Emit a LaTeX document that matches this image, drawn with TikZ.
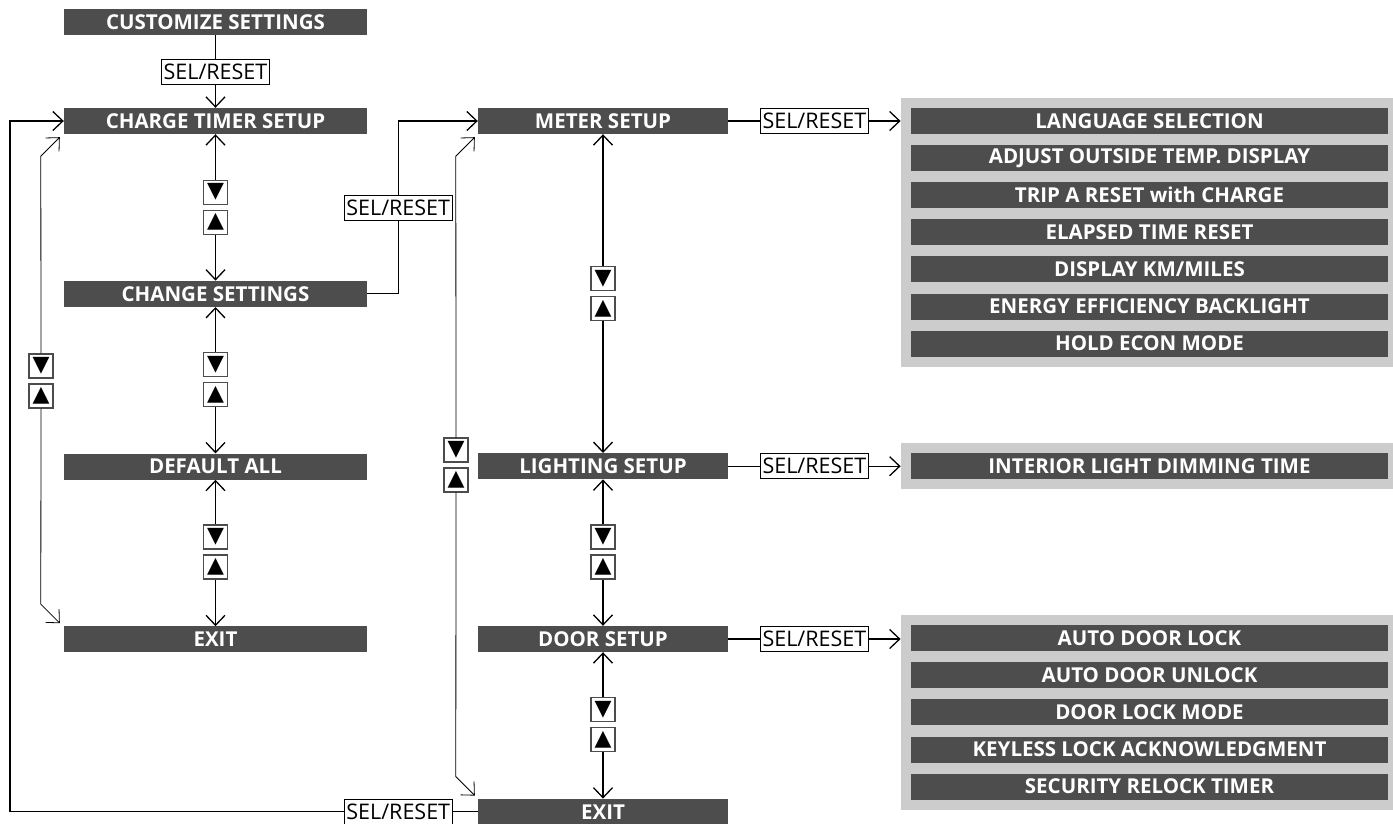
\documentclass[tikz,border=0pt]{standalone}
\usepackage{fontspec}
\setmainfont{Open Sans}
\newfontfamily\symfont{DejaVu Sans}
\usetikzlibrary{positioning,arrows.meta,fit,backgrounds,calc}
\definecolor{menufill}{HTML}{4D4D4D}
\definecolor{panelfill}{HTML}{CCCCCC}

\begin{document}
\begin{tikzpicture}[x=1pt,y=-1pt,>={Straight Barb[length=10pt,width=19pt]},
  menu/.style={rectangle,fill=menufill,text=white,minimum height=26pt,inner sep=0pt,
    font=\bfseries\fontsize{20.5}{20.5}\selectfont},
  leftmenu/.style={menu,minimum width=303pt},
  midmenu/.style={menu,minimum width=250pt},
  item/.style={menu,minimum width=477pt},
  panel/.style={rectangle,fill=panelfill,inner sep=10pt},
  selbox/.style={rectangle,draw,line width=0.8pt,fill=white,inner xsep=2pt,inner ysep=0pt,
    minimum height=25pt,font=\fontsize{21.5}{21.5}\selectfont},
  btn/.style={rectangle,draw=black!70,line width=1.1pt,fill=white,minimum size=24pt,
    inner sep=0pt,font=\symfont\fontsize{22}{22}\selectfont},
  conn/.style={line width=1.3pt},
  thinline/.style={line width=0.8pt}]
  \useasboundingbox (0,0) rectangle (1393,823);

  % left column
  \node[leftmenu] (cust) at (215.5,22) {CUSTOMIZE SETTINGS};
  \node[leftmenu] (charge) at (215.5,121) {CHARGE TIMER SETUP};
  \node[leftmenu,below=146.4pt of charge] (change) {CHANGE SETTINGS};
  \node[leftmenu,below=146.4pt of change] (deflt) {DEFAULT ALL};
  \node[leftmenu,below=146.4pt of deflt] (lexit) {EXIT};

  % middle column
  \node[midmenu] (meter) at (603,121) {METER SETUP};
  \node[midmenu,below=318.8pt of meter] (light) {LIGHTING SETUP};
  \node[midmenu,below=146.4pt of light] (door) {DOOR SETUP};
  \node[midmenu,below=146.4pt of door] (mexit) {EXIT};

  % right column
  \node[item] (lang) at (1149.5,121) {LANGUAGE SELECTION};
  \node[item,below=10.7pt of lang] (temp) {ADJUST OUTSIDE TEMP. DISPLAY};
  \node[item,below=10.7pt of temp] (trip) {TRIP A RESET with CHARGE};
  \node[item,below=10.7pt of trip] (elapsed) {ELAPSED TIME RESET};
  \node[item,below=10.7pt of elapsed] (units) {DISPLAY KM/MILES};
  \node[item,below=10.7pt of units] (backlight) {ENERGY EFFICIENCY BACKLIGHT};
  \node[item,below=10.7pt of backlight] (econ) {HOLD ECON MODE};
  \node[item] (dimming) at (1149.5,465.8) {INTERIOR LIGHT DIMMING TIME};
  \node[item] (autolock) at (1149.5,638.2) {AUTO DOOR LOCK};
  \node[item,below=10.7pt of autolock] (autounlock) {AUTO DOOR UNLOCK};
  \node[item,below=10.7pt of autounlock] (lockmode) {DOOR LOCK MODE};
  \node[item,below=10.7pt of lockmode] (keyless) {KEYLESS LOCK ACKNOWLEDGMENT};
  \node[item,below=10.7pt of keyless] (relock) {SECURITY RELOCK TIMER};
  \begin{scope}[on background layer]
    \node[panel,fit=(lang)(econ)] (mpanel) {};
    \node[panel,fit=(dimming)] (lpanel) {};
    \node[panel,fit=(autolock)(relock)] (dpanel) {};
  \end{scope}

  % up/down buttons
  \node[btn] (dn1) at (215.5,192.2) {▼};
  \node[btn] (up1) at (215.5,222.2) {▲};
  \node[btn] (dn2) at (215.5,364.6) {▼};
  \node[btn] (up2) at (215.5,394.6) {▲};
  \node[btn] (dn3) at (215.5,537) {▼};
  \node[btn] (up3) at (215.5,567) {▲};
  \node[btn] (dn4) at (603,278.4) {▼};
  \node[btn] (up4) at (603,308.4) {▲};
  \node[btn] (dn5) at (603,537) {▼};
  \node[btn] (up5) at (603,567) {▲};
  \node[btn] (dn6) at (603,709.4) {▼};
  \node[btn] (up6) at (603,739.4) {▲};
  \node[btn] (dnL) at (41,366) {▼};
  \node[btn] (upL) at (41,396) {▲};
  \node[btn] (dnM) at (456,450) {▼};
  \node[btn] (upM) at (456,480) {▲};

  \draw[conn,->] (cust) -- node[selbox] {SEL/RESET} (charge);
  \draw[conn,<-] (charge) -- (dn1);
  \draw[conn,->] (up1) -- (change);
  \draw[conn,<-] (change) -- (dn2);
  \draw[conn,->] (up2) -- (deflt);
  \draw[conn,<-] (deflt) -- (dn3);
  \draw[conn,->] (up3) -- (lexit);
  \draw[conn,<-] (meter) -- (dn4);
  \draw[conn,->] (up4) -- (light);
  \draw[conn,<-] (light) -- (dn5);
  \draw[conn,->] (up5) -- (door);
  \draw[conn,<-] (door) -- (dn6);
  \draw[conn,->] (up6) -- (mexit);

  % wrap-around loops
  \coordinate (lt) at ([xshift=-4pt,yshift=-3pt]charge.south west);
  \coordinate (lb) at ([xshift=-4pt,yshift=3pt]lexit.north west);
  \coordinate (mt) at ([xshift=-3pt,yshift=-3pt]meter.south west);
  \coordinate (mb) at ([xshift=-3pt,yshift=3pt]mexit.north west);
  \draw[thinline,<-] (lt) -- ++(-19,19) -- (dnL);
  \draw[thinline,->] (upL) -- ([shift={(-19,-19)}]lb) -- (lb);
  \draw[thinline,<-] (mt) -- ++(-19,19) -- (dnM);
  \draw[thinline,->] (upM) -- ([shift={(-19,-19)}]mb) -- (mb);

  \draw[conn,->] (change.east) -- ++(31,0) |- node[selbox,pos=0.25] {SEL/RESET} (meter.west);
  \coordinate (farleft) at (10,0);
  \draw[conn,->] (mexit.west) -- node[selbox,pos=0.17] {SEL/RESET} (mexit.west -| farleft)
    |- (charge.west);

  \draw[conn,->] (meter) -- node[selbox] {SEL/RESET} (meter -| mpanel.west);
  \draw[conn,->] (light) -- node[selbox] {SEL/RESET} (light -| lpanel.west);
  \draw[conn,->] (door) -- node[selbox] {SEL/RESET} (door -| dpanel.west);
\end{tikzpicture}
\end{document}
